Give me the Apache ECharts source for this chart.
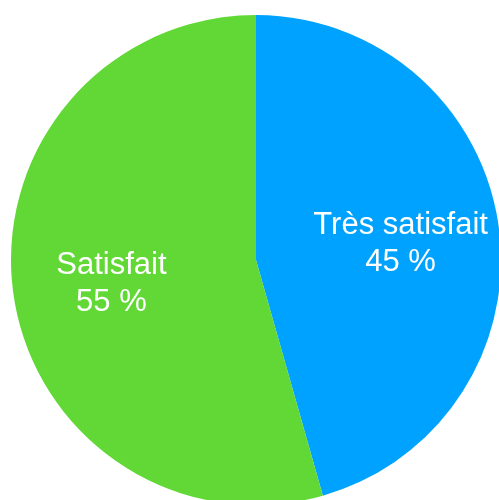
<!DOCTYPE html>
<html>
<head>
<meta charset="utf-8">
<script src="https://cdn.jsdelivr.net/npm/echarts@6/dist/echarts.min.js"></script>
<style>
  html, body { margin: 0; padding: 0; background: #fff; }
  #chart { width: 499px; height: 500px; }
</style>
</head>
<body>
<div id="chart"></div>
<script>
var categories = ['Très satisfait', 'Satisfait']
// slice sizes
var values = [45.6, 54.4]
// percentages printed on the slices
var percentLabels = [45, 55]
var colors = ['#00A2FF', '#61D836']

var chart = echarts.init(document.getElementById('chart'))

chart.setOption({
  animation: false,
  series: [{
    // slices
    type: 'pie',
    center: [256, 260],
    radius: [0, 245],
    startAngle: 90,
    clockwise: true,
    label: { show: false },
    labelLine: { show: false },
    emphasis: { disabled: true },
    itemStyle: { borderWidth: 0 },
    data: categories.map(function (name, i) {
      return { name: name, value: values[i], itemStyle: { color: colors[i] } }
    })
  }, {
    // labels only, placed a bit further out than the middle of the radius
    type: 'pie',
    center: [256, 260],
    radius: [41, 245],
    startAngle: 90,
    clockwise: true,
    silent: true,
    itemStyle: { color: 'transparent', borderWidth: 0 },
    label: {
      show: true,
      position: 'inside',
      color: '#fff',
      fontFamily: 'Liberation Sans, Arial, sans-serif',
      fontSize: 31,
      lineHeight: 37,
      offset: [0, 4],
      formatter: function (p) {
        return p.name + '\n' + percentLabels[p.dataIndex] + ' %'
      }
    },
    labelLine: { show: false },
    emphasis: { disabled: true },
    data: categories.map(function (name, i) {
      return { name: name, value: values[i] }
    })
  }]
})
</script>
</body>
</html>
